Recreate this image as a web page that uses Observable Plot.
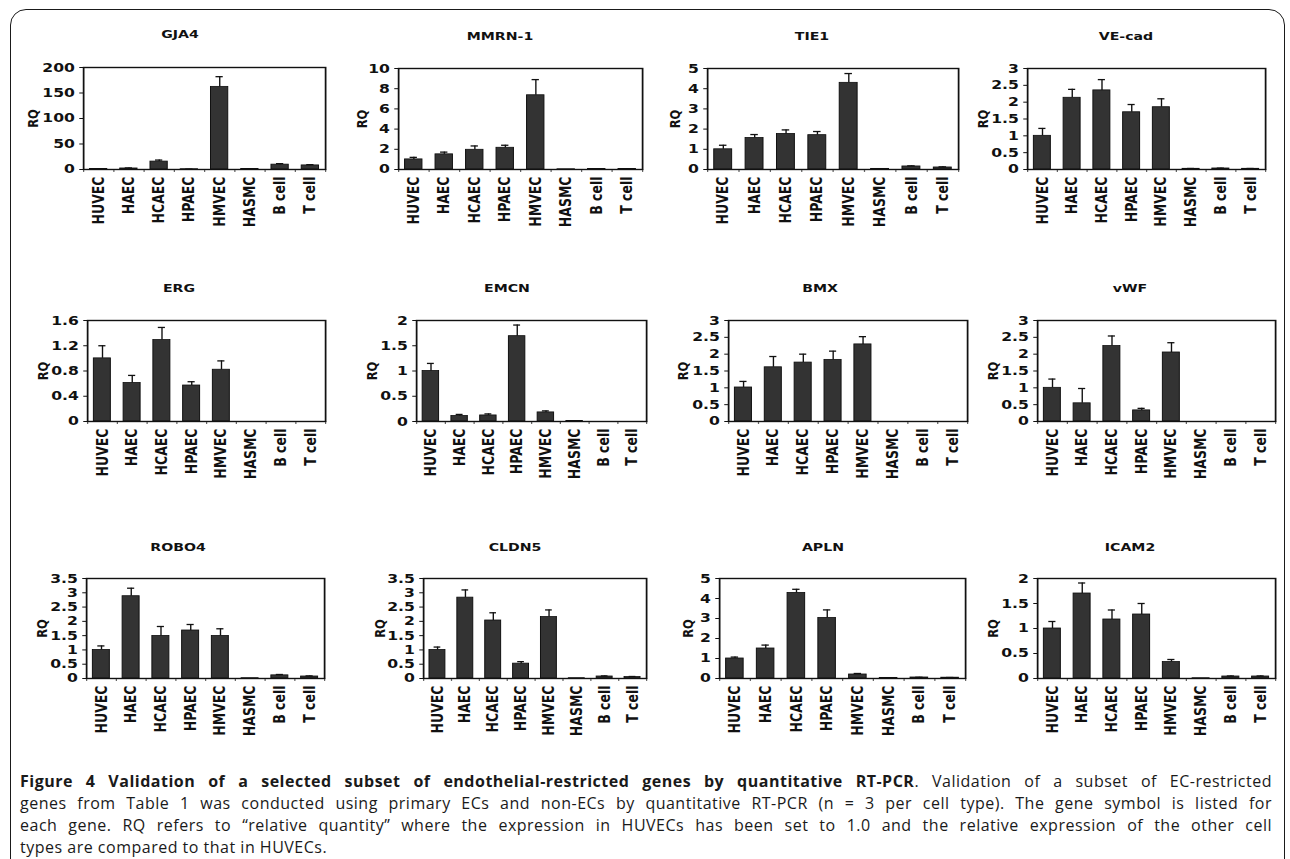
<!DOCTYPE html>
<html><head><meta charset="utf-8">
<script src="https://cdn.jsdelivr.net/npm/d3@7"></script>
<script src="https://cdn.jsdelivr.net/npm/@observablehq/plot@0.6"></script>
<style>
html,body{margin:0;padding:0;background:#fff;}
#fig{position:relative;width:1290px;height:859px;overflow:hidden;background:#fff;font-family:"DejaVu Sans",Verdana,sans-serif;}
#frame{position:absolute;left:10px;top:9px;width:1275px;height:900px;border:1.8px solid #1a1a1a;border-radius:16px 16px 0 0;box-sizing:border-box;}
.panel{position:absolute;transform-origin:0 0;}
.title{position:absolute;font-weight:bold;font-size:11.3px;white-space:nowrap;transform:translate(-50%,-50%) scaleX(1.25);color:#111;}
#caption{position:absolute;left:20px;top:770px;width:1252px;font-family:"Open Sans",sans-serif;font-size:16px;line-height:22px;letter-spacing:0.5px;color:#1a1a1a;}
#caption .j{text-align:justify;text-align-last:justify;}
</style>
</head><body>
<div id="fig">
  <div id="frame"></div>
  <div id="caption">
    <div class="j"><b>Figure 4 Validation of a selected subset of endothelial-restricted genes by quantitative RT-PCR</b>. Validation of a subset of EC-restricted</div>
    <div class="j">genes from Table 1 was conducted using primary ECs and non-ECs by quantitative RT-PCR (n = 3 per cell type). The gene symbol is listed for</div>
    <div class="j">each gene. RQ refers to “relative quantity” where the expression in HUVECs has been set to 1.0 and the relative expression of the other cell</div>
    <div>types are compared to that in HUVECs.</div>
  </div>
</div>
<script>
// ---- data ----
const cells = ["HUVEC", "HAEC", "HCAEC", "HPAEC", "HMVEC", "HASMC", "B cell", "T cell"];
const genes = ["GJA4", "MMRN-1", "TIE1", "VE-cad", "ERG", "EMCN", "BMX", "vWF", "ROBO4", "CLDN5", "APLN", "ICAM2"];

const rqGJA4  = [1, 2, 15.5, 0.5, 162, 1, 9.5, 8];
const errGJA4 = [0.3, 1, 3, 0.2, 20, 0.3, 2, 1.5];
const rqMMRN1  = [1.0, 1.5, 1.95, 2.15, 7.35, 0.02, 0.05, 0.05];
const errMMRN1 = [0.2, 0.22, 0.38, 0.25, 1.55, 0, 0.01, 0.01];
const rqTIE1  = [1.0, 1.56, 1.76, 1.7, 4.29, 0.03, 0.15, 0.1];
const errTIE1 = [0.2, 0.17, 0.2, 0.18, 0.46, 0.01, 0.03, 0.03];
const rqVEcad  = [1.0, 2.13, 2.35, 1.7, 1.85, 0.02, 0.03, 0.02];
const errVEcad = [0.22, 0.25, 0.32, 0.23, 0.25, 0.01, 0.01, 0.01];
const rqERG  = [1.0, 0.61, 1.29, 0.57, 0.82, 0, 0, 0];
const errERG = [0.2, 0.12, 0.2, 0.06, 0.14, 0, 0, 0];
const rqEMCN  = [1.0, 0.11, 0.12, 1.69, 0.18, 0.01, 0, 0];
const errEMCN = [0.15, 0.03, 0.03, 0.22, 0.03, 0, 0, 0];
const rqBMX  = [1.01, 1.61, 1.75, 1.83, 2.29, 0, 0, 0];
const errBMX = [0.18, 0.32, 0.25, 0.26, 0.23, 0, 0, 0];
const rqVWF  = [1.0, 0.54, 2.24, 0.33, 2.05, 0, 0, 0];
const errVWF = [0.26, 0.44, 0.3, 0.06, 0.29, 0, 0, 0];
const rqROBO4  = [1.0, 2.88, 1.49, 1.68, 1.49, 0.01, 0.11, 0.07];
const errROBO4 = [0.14, 0.28, 0.33, 0.21, 0.25, 0, 0.03, 0.02];
const rqCLDN5  = [1.0, 2.83, 2.03, 0.52, 2.15, 0.01, 0.07, 0.05];
const errCLDN5 = [0.1, 0.27, 0.27, 0.07, 0.25, 0, 0.02, 0.02];
const rqAPLN  = [1.0, 1.5, 4.28, 3.03, 0.2, 0.03, 0.05, 0.04];
const errAPLN = [0.07, 0.17, 0.18, 0.4, 0.05, 0.01, 0.01, 0.01];
const rqICAM2  = [1.0, 1.7, 1.18, 1.28, 0.33, 0.005, 0.04, 0.04];
const errICAM2 = [0.14, 0.21, 0.19, 0.22, 0.05, 0, 0.01, 0.01];

const yMax  = [200, 10, 5, 3, 1.6, 2, 3, 3, 3.5, 3.5, 5, 2];
const yStep = [50, 2, 1, 0.5, 0.4, 0.5, 0.5, 0.5, 0.5, 0.5, 1, 0.5];

const rqAll  = [rqGJA4, rqMMRN1, rqTIE1, rqVEcad, rqERG, rqEMCN, rqBMX, rqVWF, rqROBO4, rqCLDN5, rqAPLN, rqICAM2];
const errAll = [errGJA4, errMMRN1, errTIE1, errVEcad, errERG, errEMCN, errBMX, errVWF, errROBO4, errCLDN5, errAPLN, errICAM2];

// ---- layout (display pixels): plot-area box, title centre, axis-title offset ----
const SX = 1.25;
const layout = [
  {l: 83,  r: 325,  t: 67,  b: 169, tx: 180,  ty: 34,  lab: 50},
  {l: 398, r: 642,  t: 68,  b: 169, tx: 500,  ty: 36,  lab: 36},
  {l: 707, r: 958,  t: 68,  b: 169, tx: 812,  ty: 36,  lab: 32},
  {l: 1027,r: 1265, t: 68,  b: 169, tx: 1126, ty: 36,  lab: 44},
  {l: 87,  r: 325,  t: 320, b: 421, tx: 179,  ty: 288, lab: 44},
  {l: 416, r: 646,  t: 320, b: 421, tx: 507,  ty: 288, lab: 44},
  {l: 728, r: 967,  t: 320, b: 421, tx: 820,  ty: 288, lab: 45},
  {l: 1037,r: 1275, t: 320, b: 421, tx: 1130, ty: 288, lab: 44},
  {l: 86,  r: 324,  t: 578, b: 678, tx: 178,  ty: 547, lab: 44},
  {l: 423, r: 646,  t: 578, b: 678, tx: 515,  ty: 547, lab: 43},
  {l: 719, r: 965,  t: 578, b: 678, tx: 823,  ty: 547, lab: 31},
  {l: 1037,r: 1275, t: 578, b: 678, tx: 1130, ty: 547, lab: 44}
];

const fig = document.getElementById("fig");
const ML = 52, MR = 4, MT = 6, MB = 66;

genes.forEach((g, k) => {
  const L = layout[k];
  const rq = rqAll[k], err = errAll[k];
  const rows = cells.map((c, i) => ({cell: c, i, i1: i + 1, mid: i + 0.5, rq: rq[i], err: err[i], top: rq[i] + err[i]}));
  const pw = (L.r - L.l) / SX, ph = L.b - L.t;
  const step = pw / cells.length;
  const nT = Math.round(yMax[k] / yStep[k]);
  const ticks = d3.range(nT + 1).map(n => +(n * yStep[k]).toFixed(4));

  const plot = Plot.plot({
    width: ML + pw + MR, height: MT + ph + MB,
    marginLeft: ML, marginRight: MR, marginTop: MT, marginBottom: MB,
    style: {fontFamily: "DejaVu Sans, Verdana, sans-serif", fontSize: "12.5px", fontWeight: "bold", color: "#111", background: "transparent", overflow: "visible"},
    x: {domain: [0, cells.length], ticks: rows.map(d => d.mid), tickFormat: v => cells[Math.floor(v)], tickRotate: -90, tickSize: 0, tickPadding: 7, label: null},
    y: {domain: [0, yMax[k]], ticks, tickFormat: d3.format("~g"), tickSize: 3, tickPadding: 4, label: null},
    marks: [
      Plot.rect(rows.filter(d => d.rq > 0), {x1: "i", x2: "i1", y1: 0, y2: "rq", insetLeft: step * 0.215, insetRight: step * 0.215, fill: "#333", stroke: "#111", strokeWidth: 0.8}),
      Plot.ruleX(rows.filter(d => d.err > 0), {x: "mid", y1: "rq", y2: "top", stroke: "#111", strokeWidth: 1.1}),
      Plot.ruleY(rows.filter(d => d.err > 0), {y: "top", x1: "i", x2: "i1", insetLeft: step * 0.38, insetRight: step * 0.38, stroke: "#111", strokeWidth: 1.3}),
      Plot.ruleX(d3.range(cells.length + 1), {insetTop: ph, insetBottom: -3, stroke: "#666"}),
      Plot.frame({stroke: "#111", strokeWidth: 1.4}),
      Plot.text(["RQ"], {x: 0, y: yMax[k] / 2, dx: -L.lab / SX, rotate: -90, fontSize: 11.5, fontWeight: "bold", fill: "#111"})
    ]
  });
  const wrap = document.createElement("div");
  wrap.className = "panel";
  wrap.style.left = (L.l - ML * SX) + "px";
  wrap.style.top = (L.t - MT) + "px";
  wrap.style.transform = `scaleX(${SX})`;
  wrap.appendChild(plot);
  fig.appendChild(wrap);

  const t = document.createElement("div");
  t.className = "title";
  t.textContent = g;
  t.style.left = L.tx + "px";
  t.style.top = L.ty + "px";
  fig.appendChild(t);
});
</script>
</body></html>
